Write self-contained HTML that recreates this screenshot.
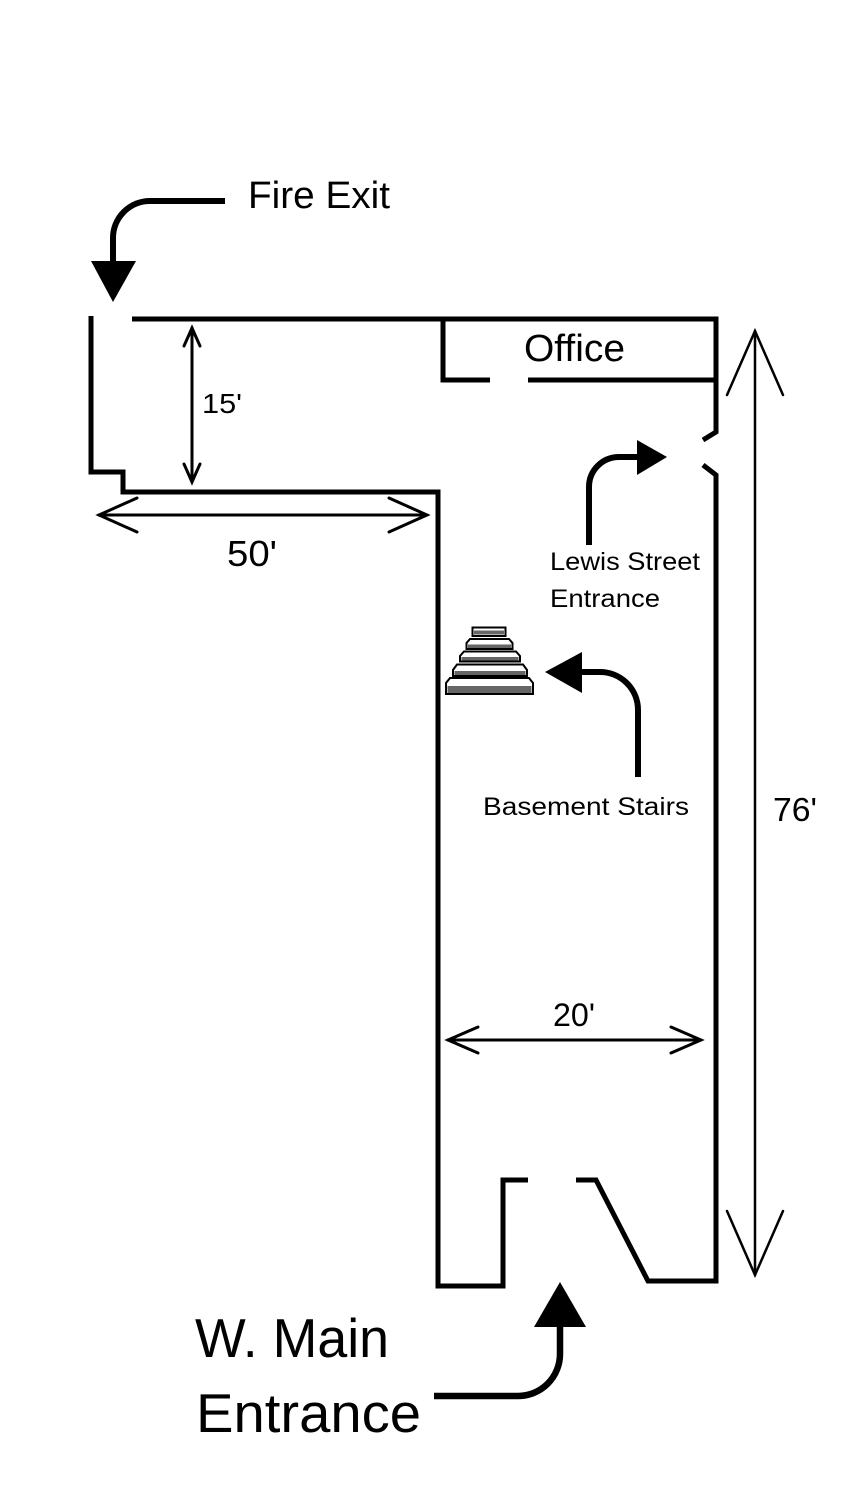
<!DOCTYPE html>
<html>
<head>
<meta charset="utf-8">
<style>
  html,body{margin:0;padding:0;background:#fff;}
  svg{display:block;}
  text{font-family:"Liberation Sans", sans-serif; fill:#000;}
</style>
</head>
<body>
<svg width="844" height="1500" viewBox="0 0 844 1500" xmlns="http://www.w3.org/2000/svg">
  <rect width="844" height="1500" fill="#fff"/>

  <!-- Walls -->
  <g fill="none" stroke="#000" stroke-width="5" stroke-linejoin="miter" stroke-linecap="butt">
    <path d="M91 316 V472 H123 V492 H438 V1286 H503 V1180 H528"/>
    <path d="M132 319 H716 V432 L703 440"/>
    <path d="M703 465 L716 475 V1281 H648 L596 1180 H576"/>
    <path d="M443 319 V380 H490"/>
    <path d="M528 380 H716"/>
  </g>

  <!-- Dimension arrows (thin) -->
  <g fill="none" stroke="#000" stroke-width="3" stroke-linecap="round" stroke-linejoin="miter">
    <!-- 15' -->
    <path d="M192 328 V482"/>
    <path d="M184 346 L192 328 L200 346"/>
    <path d="M184 464 L192 482 L200 464"/>
    <!-- 50' -->
    <path d="M99 515 H427"/>
    <path d="M137 498 L99 515 L137 532"/>
    <path d="M389 498 L427 515 L389 532"/>
    <!-- 20' -->
    <path d="M448 1040 H701"/>
    <path d="M478 1027 L448 1040 L478 1053"/>
    <path d="M671 1027 L701 1040 L671 1053"/>
  </g>
  <g fill="none" stroke="#000" stroke-width="2.5" stroke-linecap="round">
    <!-- 76' -->
    <path d="M755 331 V1275"/>
    <path d="M727 395 L755 331 L783 395"/>
    <path d="M727 1211 L755 1275 L783 1211"/>
  </g>

  <!-- Callout arrows (thick) -->
  <g fill="none" stroke="#000" stroke-width="6" stroke-linecap="butt">
    <path d="M225 201 H150 A37 37 0 0 0 113 238 V266"/>
    <path d="M589 545 V487 A30 30 0 0 1 619 457 H640"/>
    <path d="M638 777 V710 A38 38 0 0 0 600 672 H578"/>
    <path d="M434 1396 H518 A42 42 0 0 0 560 1354 V1322" stroke-width="6.5"/>
  </g>
  <g fill="#000">
    <polygon points="91,261 136,261 113,302"/>
    <polygon points="637,440 637,475 667,457"/>
    <polygon points="582,652 582,693 545,672"/>
    <polygon points="534,1327 586,1327 560,1282"/>
  </g>

  <!-- Stairs icon -->
  <g stroke="#000" stroke-width="2">
    <polygon points="472.5,627.5 505.5,627.5 505.5,636 472.5,636" fill="#fff"/>
    <rect x="474" y="630.5" width="30" height="4" fill="#666" stroke="none"/>
    <polygon points="470,639 509,639 512.5,643 512.5,649 466.5,649 466.5,643" fill="#fff"/>
    <rect x="468" y="644.5" width="43" height="3.5" fill="#666" stroke="none"/>
    <polygon points="464,651.5 516,651.5 520,656 520,661.5 460,661.5 460,656" fill="#fff"/>
    <rect x="461.5" y="657" width="57" height="3.5" fill="#666" stroke="none"/>
    <polygon points="457,664.5 523,664.5 527,670 527,676 453,676 453,670" fill="#fff"/>
    <rect x="454.5" y="671" width="71" height="4" fill="#666" stroke="none"/>
    <polygon points="450,678 529,678 533,683 533,694 446,694 446,683" fill="#fff"/>
    <rect x="447.5" y="686" width="84" height="7" fill="#666" stroke="none"/>
  </g>

  <!-- Labels -->
  <text x="248" y="208" font-size="38" textLength="142" lengthAdjust="spacingAndGlyphs">Fire Exit</text>
  <text x="524" y="361" font-size="38" textLength="101" lengthAdjust="spacingAndGlyphs">Office</text>
  <text x="202" y="413" font-size="28" textLength="40" lengthAdjust="spacingAndGlyphs">15'</text>
  <text x="227" y="566" font-size="36" textLength="50" lengthAdjust="spacingAndGlyphs">50'</text>
  <text x="550" y="570" font-size="25" textLength="150" lengthAdjust="spacingAndGlyphs">Lewis Street</text>
  <text x="550" y="607" font-size="25" textLength="110" lengthAdjust="spacingAndGlyphs">Entrance</text>
  <text x="483" y="815" font-size="25" textLength="206" lengthAdjust="spacingAndGlyphs">Basement Stairs</text>
  <text x="773" y="821" font-size="33" textLength="44" lengthAdjust="spacingAndGlyphs">76'</text>
  <text x="553" y="1026" font-size="32" textLength="42" lengthAdjust="spacingAndGlyphs">20'</text>
  <text x="195" y="1357" font-size="55" textLength="194" lengthAdjust="spacingAndGlyphs">W. Main</text>
  <text x="196" y="1432" font-size="55" textLength="225" lengthAdjust="spacingAndGlyphs">Entrance</text>
</svg>
</body>
</html>
